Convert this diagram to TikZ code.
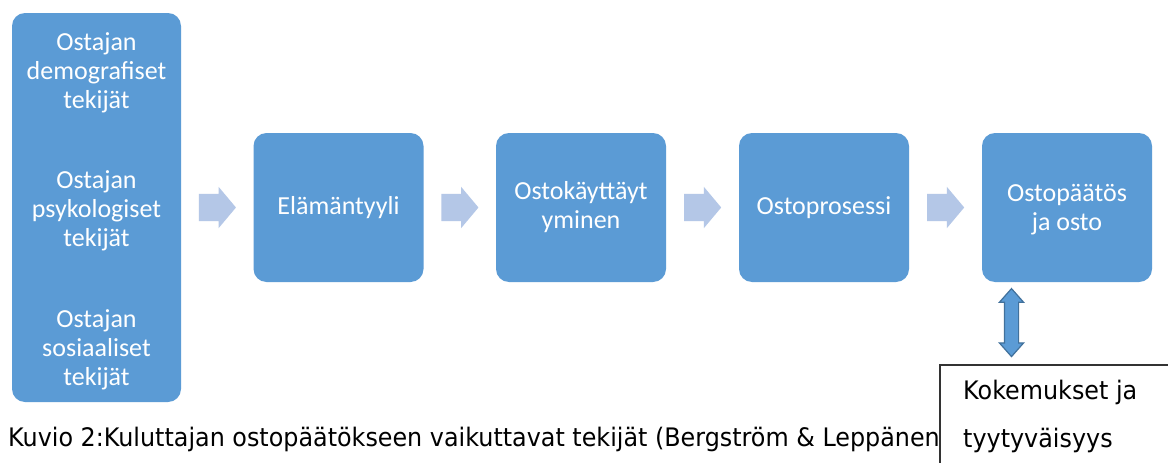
\documentclass[tikz,border=0pt]{standalone}
\usepackage{fontspec}
\usetikzlibrary{shapes.arrows,calc}
\newfontfamily\boxfont{Carlito}
\newfontfamily\capfont[FakeStretch=0.935]{DejaVu Sans}
\definecolor{boxblue}{HTML}{5B9BD5}
\definecolor{lightarrow}{HTML}{B4C7E7}
\definecolor{darkblue}{HTML}{41719C}
\tikzset{
  bluebox/.style={draw=none, fill=boxblue, rounded corners=13pt, minimum width=170pt, minimum height=149pt, inner sep=0pt, text=white, align=center, font=\boxfont\fontsize{26}{29}\selectfont},
  boxtext/.style={text=white, align=center, inner sep=0pt, font=\boxfont\fontsize{26}{29}\selectfont},
  flowarrow/.style={single arrow, fill=lightarrow, draw=none, inner xsep=0pt, inner ysep=13.5pt, minimum height=37pt, single arrow head extend=7pt, single arrow tip angle=100, anchor=tail},
  plaintext/.style={inner sep=0pt, anchor=base west, font=\capfont\fontsize{25.5}{30}\selectfont}
}
\begin{document}
\begin{tikzpicture}[x=1pt,y=-1pt]
\useasboundingbox (0,0) rectangle (1168,463);
\clip (0,0) rectangle (1168,463);
\fill[white] (0,0) rectangle (1168,463);
% left box
\node[bluebox, minimum width=169pt, minimum height=389pt] (left) at (96.5,207.5) {};
\node[boxtext] (g1) at (96.5,72.5) {Ostajan\\demografiset\\tekijät};
\node[boxtext] (g2) at (96.5,211) {Ostajan\\psykologiset\\tekijät};
\node[boxtext] (g3) at (96.5,350) {Ostajan\\sosiaaliset\\tekijät};
% flow boxes
\node[bluebox] (b2) at (338.5,207.5) {Elämäntyyli};
\node[bluebox] (b3) at (581,207.5) {Ostokäyttäyt\\yminen};
\node[bluebox] (b4) at (824,207.5) {Ostoprosessi};
\node[bluebox] (b5) at (1067,207.5) {};
\node[boxtext] (t5) at (1067,210) {Ostopäätös\\ja osto};
% arrows
\node[flowarrow] (a1) at ($(left.east)!0.5!(b2.west)+(-18.5,0)$) {};
\node[flowarrow] (a2) at ($(b2.east)!0.5!(b3.west)+(-18.5,0)$) {};
\node[flowarrow] (a3) at ($(b3.east)!0.5!(b4.west)+(-18.5,0)$) {};
\node[flowarrow] (a4) at ($(b4.east)!0.5!(b5.west)+(-18.5,0)$) {};
% caption
\node[plaintext] (cap) at (8,446) {Kuvio 2:Kuluttajan ostopäätökseen vaikuttavat tekijät (Bergström \& Leppänen};
% bottom box
\draw[line width=1.3pt, draw=black!80, fill=white] (940,365) rectangle (1200,500);
\coordinate (bb) at (1011.5,363);
\node[plaintext] (k1) at (963,399) {Kokemukset ja};
\node[plaintext] (k2) at (963,447) {tyytyväisyys};
% double arrow
\node[double arrow, fill=boxblue, draw=darkblue, line width=1.2pt, inner xsep=0pt, inner ysep=6.5pt, minimum height=68pt, double arrow head extend=5pt, double arrow tip angle=83, rotate=90] (da) at ($(b5.south -| bb)!0.5!(bb)$) {};
\end{tikzpicture}
\end{document}
